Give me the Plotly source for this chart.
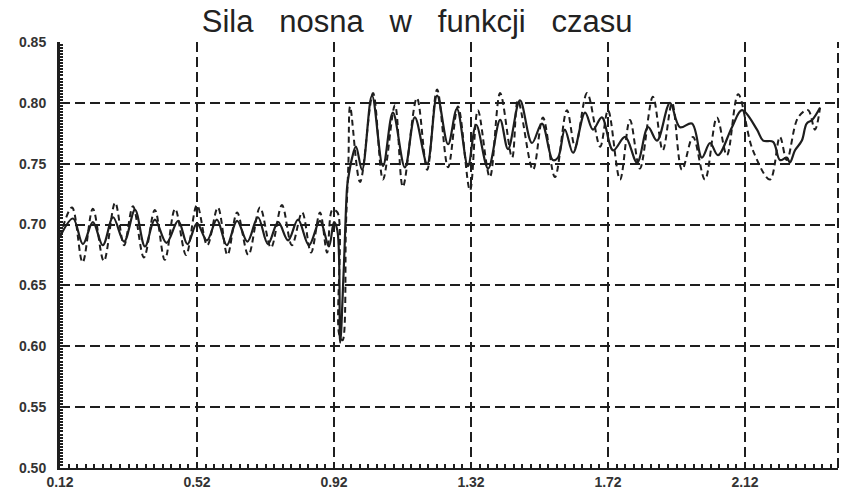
import plotly.graph_objects as go

# Lift force over time: solid and dashed curves
time_solid = [
    0.12, 0.158, 0.187, 0.216, 0.245, 0.275, 0.307, 0.339, 0.368, 0.397, 0.431,
    0.465, 0.492, 0.52, 0.549, 0.578, 0.607, 0.637, 0.667, 0.698, 0.727, 0.757,
    0.786, 0.815, 0.847, 0.879, 0.905, 0.92, 0.93, 0.938, 0.948, 0.958, 0.961,
    0.973, 0.984, 1.002, 1.031, 1.063, 1.092, 1.127, 1.156, 1.192, 1.221, 1.253,
    1.279, 1.311, 1.335, 1.37, 1.405, 1.428, 1.463, 1.498, 1.527, 1.559, 1.574,
    1.594, 1.618, 1.653, 1.676, 1.702, 1.735, 1.77, 1.805, 1.837, 1.863, 1.901,
    1.93, 1.965, 1.994, 2.018, 2.041, 2.082, 2.111, 2.155, 2.173, 2.202, 2.222,
    2.242, 2.251, 2.266, 2.286, 2.30, 2.316, 2.339,
]
lift_solid = [
    0.690, 0.705, 0.684, 0.702, 0.683, 0.706, 0.686, 0.712, 0.682, 0.704, 0.685,
    0.703, 0.684, 0.701, 0.687, 0.704, 0.683, 0.703, 0.686, 0.706, 0.684, 0.702,
    0.687, 0.704, 0.683, 0.703, 0.682, 0.702, 0.695, 0.603, 0.660, 0.730, 0.737,
    0.755, 0.764, 0.745, 0.806, 0.748, 0.792, 0.747, 0.788, 0.750, 0.806, 0.766,
    0.795, 0.748, 0.782, 0.746, 0.786, 0.762, 0.802, 0.767, 0.783, 0.753, 0.755,
    0.778, 0.759, 0.792, 0.778, 0.788, 0.761, 0.772, 0.751, 0.780, 0.769, 0.800,
    0.780, 0.783, 0.755, 0.767, 0.757, 0.780, 0.794, 0.778, 0.769, 0.768, 0.753,
    0.755, 0.751, 0.761, 0.769, 0.783, 0.786, 0.796,
]

time_dashed = [
    0.12, 0.155, 0.186, 0.216, 0.248, 0.281, 0.307, 0.333, 0.365, 0.397, 0.426,
    0.456, 0.488, 0.52, 0.55, 0.581, 0.609, 0.637, 0.67, 0.704, 0.736, 0.768,
    0.797, 0.827, 0.853, 0.879, 0.90, 0.915, 0.93, 0.935, 0.945, 0.955, 0.962,
    0.967, 0.996, 1.034, 1.063, 1.098, 1.121, 1.162, 1.192, 1.221, 1.253, 1.282,
    1.317, 1.34, 1.375, 1.405, 1.44, 1.457, 1.501, 1.53, 1.565, 1.60, 1.624,
    1.659, 1.697, 1.72, 1.755, 1.784, 1.813, 1.851, 1.88, 1.907, 1.936, 1.968,
    2.003, 2.038, 2.067, 2.10, 2.143, 2.193, 2.222, 2.242, 2.275, 2.304, 2.324,
    2.339,
]
lift_dashed = [
    0.690, 0.714, 0.669, 0.713, 0.670, 0.718, 0.683, 0.715, 0.673, 0.712, 0.671,
    0.713, 0.675, 0.716, 0.683, 0.714, 0.675, 0.710, 0.675, 0.714, 0.681, 0.716,
    0.683, 0.710, 0.677, 0.710, 0.677, 0.712, 0.710, 0.610, 0.605, 0.700, 0.750,
    0.797, 0.735, 0.808, 0.737, 0.798, 0.731, 0.804, 0.745, 0.811, 0.747, 0.797,
    0.728, 0.794, 0.739, 0.808, 0.755, 0.802, 0.745, 0.788, 0.739, 0.794, 0.764,
    0.808, 0.764, 0.794, 0.737, 0.786, 0.746, 0.805, 0.761, 0.800, 0.745, 0.772,
    0.737, 0.788, 0.757, 0.807, 0.761, 0.737, 0.772, 0.753, 0.788, 0.794, 0.778,
    0.796,
]

x_ticks = [0.12, 0.52, 0.92, 1.32, 1.72, 2.12]
x_tick_labels = ["0.12", "0.52", "0.92", "1.32", "1.72", "2.12"]
y_ticks = [0.50, 0.55, 0.60, 0.65, 0.70, 0.75, 0.80, 0.85]
y_tick_labels = ["0.50", "0.55", "0.60", "0.65", "0.70", "0.75", "0.80", "0.85"]

INK = "#1e1e1e"

fig = go.Figure()
fig.add_trace(go.Scatter(
    x=time_dashed, y=lift_dashed, mode="lines",
    line=dict(color=INK, width=2, dash="6px,4px", shape="spline", smoothing=1.0),
    showlegend=False,
))
fig.add_trace(go.Scatter(
    x=time_solid, y=lift_solid, mode="lines",
    line=dict(color=INK, width=2.2, shape="spline", smoothing=1.0),
    showlegend=False,
))

gap = "\u00a0\u00a0\u00a0"
fig.update_layout(
    width=841, height=498,
    margin=dict(l=60, r=3, t=42, b=30),
    paper_bgcolor="white", plot_bgcolor="white",
    title=dict(
        text=f"Sila{gap}nosna{gap}w{gap}funkcji{gap}czasu",
        x=0.496, xanchor="center", y=0.958, yanchor="middle",
        font=dict(family="Liberation Sans", size=31, color="#222"),
    ),
    font=dict(family="Liberation Sans", color="#333"),
)

fig.update_xaxes(
    range=[0.12, 2.3915],
    tickvals=x_ticks, ticktext=x_tick_labels,
    tickfont=dict(family="Liberation Sans", size=14, color="#333", weight="bold"),
    showgrid=True, gridcolor=INK, gridwidth=2, griddash="10px,5px",
    showline=True, linecolor=INK, linewidth=2,
    ticks="inside", ticklen=6, tickwidth=2, tickcolor=INK,
    minor=dict(dtick=0.025, tick0=0.12, ticks="inside", ticklen=4,
               tickwidth=2, tickcolor=INK, showgrid=False),
    zeroline=False,
)
fig.update_yaxes(
    range=[0.50, 0.85],
    tickvals=y_ticks, ticktext=y_tick_labels,
    tickfont=dict(family="Liberation Sans", size=14, color="#333", weight="bold"),
    showgrid=True, gridcolor=INK, gridwidth=2, griddash="10px,5px",
    showline=True, linecolor=INK, linewidth=3,
    ticks="inside", ticklen=5, tickwidth=2, tickcolor=INK,
    ticklabelstandoff=8,
    minor=dict(dtick=0.0025, tick0=0.5, ticks="inside", ticklen=3,
               tickwidth=1.5, tickcolor=INK, showgrid=False),
    zeroline=False,
)

# dashed frame on the right-hand side
fig.add_shape(type="line", xref="paper", yref="paper", x0=1, x1=1, y0=0, y1=1,
              line=dict(color=INK, width=2, dash="10px,5px"))

fig.write_html("out.html")
